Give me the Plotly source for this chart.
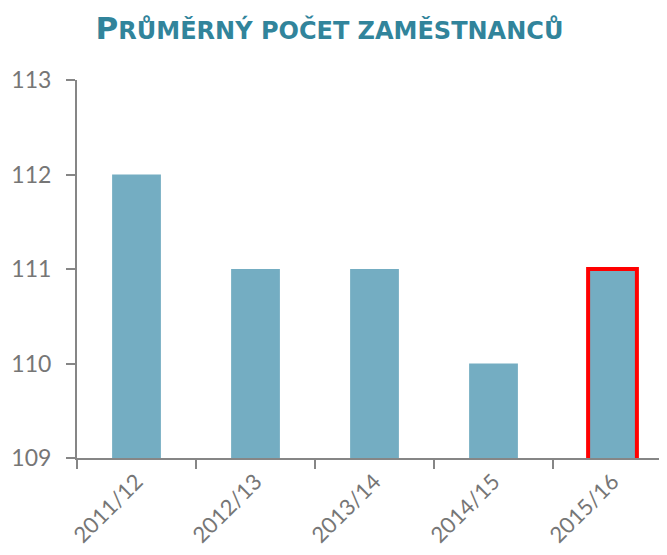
import plotly.graph_objects as go

# data
years = ["2011/12", "2012/13", "2013/14", "2014/15", "2015/16"]
employees = [112, 111, 111, 110, 111]
yticks = [109, 110, 111, 112, 113]

bar_color = "#74ADC2"
title_color = "#31849B"
axis_color = "#868686"
text_color = "#767676"

# last year is highlighted with a red frame
line_colors = ["rgba(0,0,0,0)"] * (len(years) - 1) + ["#FF0000"]
line_widths = [0] * (len(years) - 1) + [4]

fig = go.Figure()
fig.add_trace(go.Bar(
    x=years, y=employees,
    width=0.41,
    marker=dict(color=bar_color, line=dict(color=line_colors, width=line_widths)),
    hoverinfo="x+y",
))

title = ("P<span style='font-size:24px'>RŮMĚRNÝ POČET ZAMĚSTNANCŮ</span>")

# page body has an 8px margin, margins below make up for it
fig.update_layout(
    width=667, height=555,
    margin=dict(l=69, r=3, t=72, b=105),
    paper_bgcolor="white", plot_bgcolor="white",
    showlegend=False,
    title=dict(text=title, x=0.482, xanchor="center", y=1 - 20 / 555, yanchor="middle",
               xref="container", yref="container",
               font=dict(family="DejaVu Sans", size=31, color=title_color, weight="bold")),
    font=dict(family="Lato", color=text_color),
)
fig.update_yaxes(
    range=[109, 113], tickvals=yticks,
    showgrid=False, zeroline=False, automargin=False,
    showline=True, linecolor=axis_color, linewidth=2,
    ticks="outside", ticklen=9, tickwidth=2, tickcolor=axis_color,
    ticklabelstandoff=10,
    tickfont=dict(size=23, color=text_color),
)
fig.update_xaxes(
    showgrid=False, automargin=False,
    showline=True, linecolor=axis_color, linewidth=2,
    ticks="outside", ticklen=9, tickwidth=2, tickcolor=axis_color,
    tickson="boundaries", tickangle=-45,
    tickfont=dict(size=22, color=text_color),
)

fig.write_html("out.html")
